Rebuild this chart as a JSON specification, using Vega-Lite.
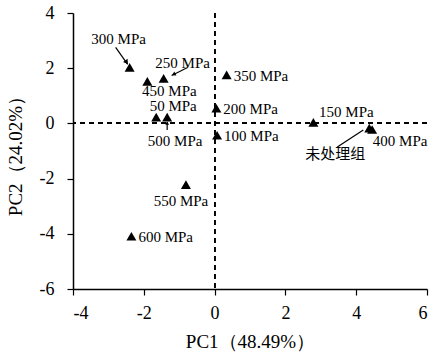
{
  "$schema": "https://vega.github.io/schema/vega-lite/v6.json",
  "width": 354,
  "height": 276,
  "autosize": "none",
  "padding": {"left": 73, "top": 13, "right": 6, "bottom": 69},
  "background": "white",
  "config": {
    "view": {"stroke": null},
    "font": "Liberation Serif",
    "axis": {
      "grid": false,
      "domainColor": "black",
      "domainWidth": 1.5,
      "tickColor": "black",
      "tickWidth": 1.2,
      "tickSize": 6,
      "labelColor": "black",
      "labelFont": "Liberation Serif",
      "labelFontSize": 18,
      "titleColor": "black",
      "titleFont": "Liberation Serif",
      "titleFontSize": 19,
      "titleFontWeight": "normal"
    }
  },
  "data": {
    "values": [
      {"label": "50 MPa", "pc1": -1.65, "pc2": 0.23},
      {"label": "100 MPa", "pc1": 0.07, "pc2": -0.43},
      {"label": "150 MPa", "pc1": 2.79, "pc2": 0.04},
      {"label": "200 MPa", "pc1": 0.05, "pc2": 0.55},
      {"label": "250 MPa", "pc1": -1.44, "pc2": 1.63},
      {"label": "300 MPa", "pc1": -2.4, "pc2": 2.03},
      {"label": "350 MPa", "pc1": 0.34, "pc2": 1.76},
      {"label": "400 MPa", "pc1": 4.45, "pc2": -0.22},
      {"label": "450 MPa", "pc1": -1.9, "pc2": 1.52},
      {"label": "500 MPa", "pc1": -1.34, "pc2": 0.23},
      {"label": "550 MPa", "pc1": -0.81, "pc2": -2.22},
      {"label": "600 MPa", "pc1": -2.35, "pc2": -4.09},
      {"label": "未处理组", "pc1": 4.37, "pc2": -0.17}
    ]
  },
  "encoding": {
    "x": {
      "field": "pc1", "type": "quantitative",
      "scale": {"domain": [-4, 6], "nice": false, "zero": false},
      "axis": {"values": [-4, -2, 0, 2, 4, 6], "labelExpr": "'' + datum.value", "title": "PC1（48.49%）", "titlePadding": 10, "labelPadding": 9}
    },
    "y": {
      "field": "pc2", "type": "quantitative",
      "scale": {"domain": [-6, 4], "nice": false, "zero": false},
      "axis": {"values": [-6, -4, -2, 0, 2, 4], "labelExpr": "'' + datum.value", "title": "PC2（24.02%）", "titlePadding": 14, "labelPadding": 13}
    }
  },
  "layer": [
    {
      "mark": {"type": "rule", "strokeDash": [5, 4], "strokeWidth": 1.2, "color": "black"},
      "encoding": {"x": {"datum": 0, "type": "quantitative"}, "y": null}
    },
    {
      "mark": {"type": "rule", "strokeDash": [5, 4], "strokeWidth": 1.2, "color": "black"},
      "encoding": {"y": {"datum": 0, "type": "quantitative"}, "x": null}
    },
    {
      "mark": {"type": "point", "shape": "triangle-up", "filled": true, "color": "black", "opacity": 1, "size": 100}
    },
    {
      "transform": [{"filter": "datum.label == '300 MPa'"}],
      "mark": {"type": "rule", "color": "black", "strokeWidth": 1.2, "xOffset": -2, "yOffset": -3, "x2Offset": -14, "y2Offset": -20},
      "encoding": {"x2": {"field": "pc1"}, "y2": {"field": "pc2"}}
    },
    {
      "transform": [{"filter": "datum.label == '300 MPa'"}],
      "mark": {"type": "point", "shape": "triangle-up", "filled": true, "color": "black", "opacity": 1, "size": 30, "angle": 145, "xOffset": -3, "yOffset": -5}
    },
    {
      "transform": [{"filter": "datum.label == '250 MPa'"}],
      "mark": {"type": "rule", "color": "black", "strokeWidth": 1.2, "xOffset": 8, "yOffset": -3, "x2Offset": 24, "y2Offset": -11},
      "encoding": {"x2": {"field": "pc1"}, "y2": {"field": "pc2"}}
    },
    {
      "transform": [{"filter": "datum.label == '250 MPa'"}],
      "mark": {"type": "point", "shape": "triangle-up", "filled": true, "color": "black", "opacity": 1, "size": 20, "angle": 243, "xOffset": 10, "yOffset": -4}
    },
    {
      "transform": [{"filter": "datum.label == '500 MPa'"}],
      "mark": {"type": "rule", "color": "black", "strokeWidth": 1.2, "yOffset": 5, "y2Offset": 13},
      "encoding": {"x2": {"field": "pc1"}, "y2": {"field": "pc2"}}
    },
    {
      "transform": [{"filter": "datum.label == '500 MPa'"}],
      "mark": {"type": "point", "shape": "triangle-up", "filled": true, "color": "black", "opacity": 1, "size": 15, "angle": 0, "xOffset": 0, "yOffset": 6}
    },
    {
      "transform": [{"filter": "datum.label == '未处理组'"}],
      "mark": {"type": "rule", "color": "black", "strokeWidth": 1.2, "xOffset": -6, "yOffset": 2, "x2Offset": -32, "y2Offset": 19},
      "encoding": {"x2": {"field": "pc1"}, "y2": {"field": "pc2"}}
    },
    {
      "transform": [{"filter": "indexof(['350 MPa','200 MPa','100 MPa','600 MPa'], datum.label) >= 0"}],
      "mark": {"type": "text", "align": "left", "baseline": "middle", "dx": 7, "dy": 1, "fontSize": 15, "font": "Liberation Serif", "color": "black"},
      "encoding": {"text": {"field": "label"}}
    },
    {
      "transform": [{"filter": "datum.label == '300 MPa'"}],
      "mark": {"type": "text", "align": "center", "baseline": "middle", "dx": -11, "dy": -28, "fontSize": 15, "font": "Liberation Serif", "color": "black"},
      "encoding": {"text": {"field": "label"}}
    },
    {
      "transform": [{"filter": "datum.label == '250 MPa'"}],
      "mark": {"type": "text", "align": "center", "baseline": "middle", "dx": 19, "dy": -15, "fontSize": 15, "font": "Liberation Serif", "color": "black"},
      "encoding": {"text": {"field": "label"}}
    },
    {
      "transform": [{"filter": "datum.label == '450 MPa'"}],
      "mark": {"type": "text", "align": "center", "baseline": "middle", "dx": 22, "dy": 10, "fontSize": 15, "font": "Liberation Serif", "color": "black"},
      "encoding": {"text": {"field": "label"}}
    },
    {
      "transform": [{"filter": "datum.label == '50 MPa'"}],
      "mark": {"type": "text", "align": "center", "baseline": "middle", "dx": 17, "dy": -11, "fontSize": 15, "font": "Liberation Serif", "color": "black"},
      "encoding": {"text": {"field": "label"}}
    },
    {
      "transform": [{"filter": "datum.label == '500 MPa'"}],
      "mark": {"type": "text", "align": "center", "baseline": "middle", "dx": 8, "dy": 24, "fontSize": 15, "font": "Liberation Serif", "color": "black"},
      "encoding": {"text": {"field": "label"}}
    },
    {
      "transform": [{"filter": "datum.label == '150 MPa'"}],
      "mark": {"type": "text", "align": "center", "baseline": "middle", "dx": 33, "dy": -10, "fontSize": 15, "font": "Liberation Serif", "color": "black"},
      "encoding": {"text": {"field": "label"}}
    },
    {
      "transform": [{"filter": "datum.label == '400 MPa'"}],
      "mark": {"type": "text", "align": "center", "baseline": "middle", "dx": 28, "dy": 12, "fontSize": 15, "font": "Liberation Serif", "color": "black"},
      "encoding": {"text": {"field": "label"}}
    },
    {
      "transform": [{"filter": "datum.label == '未处理组'"}],
      "mark": {"type": "text", "align": "center", "baseline": "middle", "dx": -34, "dy": 26, "fontSize": 15, "font": "Noto Sans CJK SC", "color": "black"},
      "encoding": {"text": {"field": "label"}}
    },
    {
      "transform": [{"filter": "datum.label == '550 MPa'"}],
      "mark": {"type": "text", "align": "center", "baseline": "middle", "dx": -5, "dy": 16, "fontSize": 15, "font": "Liberation Serif", "color": "black"},
      "encoding": {"text": {"field": "label"}}
    }
  ]
}
